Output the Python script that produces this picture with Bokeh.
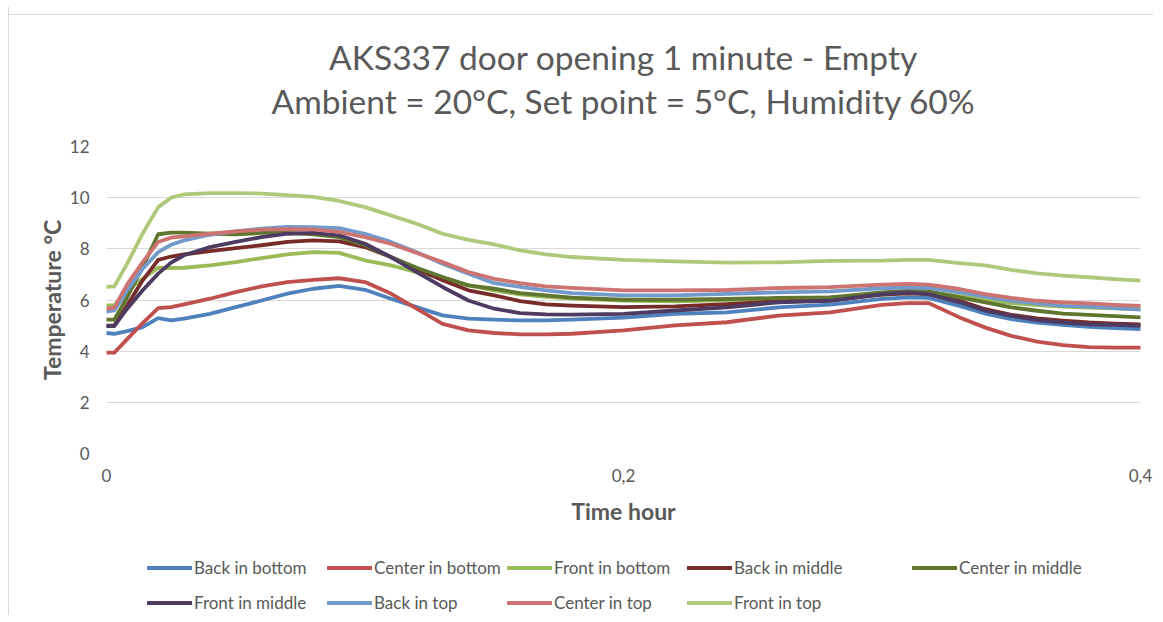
from bokeh.plotting import figure
from bokeh.layouts import column
from bokeh.models import Range1d, FixedTicker, Title, Legend, LegendItem
from bokeh.embed import file_html
from bokeh.resources import INLINE

time_hour = [0, 0.003, 0.008, 0.014, 0.020, 0.025, 0.030, 0.040, 0.050, 0.060,
             0.070, 0.080, 0.090, 0.100, 0.110, 0.120, 0.130, 0.140, 0.150, 0.160,
             0.170, 0.180, 0.200, 0.220, 0.240, 0.260, 0.280, 0.300, 0.310, 0.318,
             0.330, 0.340, 0.350, 0.360, 0.370, 0.380, 0.390, 0.400]

back_in_bottom = [4.71, 4.68, 4.78, 4.94, 5.29, 5.20, 5.27, 5.46, 5.72, 5.98,
                  6.25, 6.44, 6.55, 6.40, 6.05, 5.72, 5.40, 5.27, 5.23, 5.20,
                  5.20, 5.23, 5.31, 5.46, 5.52, 5.71, 5.82, 6.04, 6.10, 6.08,
                  5.77, 5.47, 5.25, 5.12, 5.03, 4.95, 4.90, 4.86]
center_in_bottom = [3.94, 3.94, 4.47, 5.10, 5.68, 5.72, 5.83, 6.05, 6.31, 6.53,
                    6.70, 6.79, 6.85, 6.70, 6.25, 5.66, 5.07, 4.81, 4.71, 4.66,
                    4.66, 4.68, 4.81, 5.01, 5.13, 5.39, 5.52, 5.81, 5.88, 5.88,
                    5.32, 4.92, 4.60, 4.37, 4.24, 4.16, 4.14, 4.14]
front_in_bottom = [5.79, 5.79, 6.38, 6.83, 7.26, 7.25, 7.26, 7.35, 7.48, 7.64,
                   7.78, 7.87, 7.84, 7.55, 7.35, 7.09, 6.83, 6.57, 6.38, 6.22,
                   6.12, 6.05, 5.98, 5.95, 6.00, 6.05, 6.10, 6.20, 6.28, 6.30,
                   6.15, 6.00, 5.88, 5.80, 5.74, 5.70, 5.67, 5.64]
back_in_middle = [5.00, 5.00, 5.79, 6.77, 7.57, 7.70, 7.78, 7.91, 8.03, 8.14,
                  8.27, 8.33, 8.29, 8.07, 7.68, 7.22, 6.77, 6.38, 6.18, 5.96,
                  5.83, 5.78, 5.72, 5.75, 5.84, 5.95, 5.99, 6.21, 6.26, 6.23,
                  5.97, 5.64, 5.42, 5.28, 5.19, 5.12, 5.08, 5.05]
center_in_middle = [5.23, 5.23, 6.11, 7.29, 8.57, 8.63, 8.63, 8.59, 8.57, 8.62,
                    8.62, 8.57, 8.46, 8.14, 7.68, 7.26, 6.90, 6.57, 6.44, 6.27,
                    6.18, 6.09, 6.01, 6.01, 6.04, 6.08, 6.10, 6.30, 6.36, 6.34,
                    6.10, 5.91, 5.71, 5.58, 5.47, 5.42, 5.37, 5.32]
front_in_middle = [4.98, 4.98, 5.66, 6.38, 7.03, 7.46, 7.75, 8.07, 8.27, 8.46,
                   8.59, 8.62, 8.53, 8.20, 7.68, 7.09, 6.51, 5.98, 5.66, 5.49,
                   5.44, 5.43, 5.46, 5.59, 5.71, 5.91, 5.97, 6.23, 6.30, 6.23,
                   5.91, 5.58, 5.38, 5.21, 5.12, 5.05, 5.03, 4.99]
back_in_top = [5.55, 5.59, 6.38, 7.22, 7.87, 8.16, 8.33, 8.55, 8.68, 8.79,
               8.86, 8.85, 8.81, 8.59, 8.27, 7.87, 7.42, 7.03, 6.66, 6.51,
               6.38, 6.27, 6.18, 6.18, 6.24, 6.30, 6.34, 6.46, 6.49, 6.47,
               6.30, 6.13, 5.97, 5.87, 5.77, 5.74, 5.68, 5.62]
center_in_top = [5.66, 5.70, 6.61, 7.48, 8.27, 8.44, 8.49, 8.59, 8.68, 8.75,
                 8.77, 8.76, 8.66, 8.46, 8.20, 7.84, 7.48, 7.09, 6.83, 6.66,
                 6.53, 6.47, 6.38, 6.38, 6.39, 6.47, 6.50, 6.60, 6.63, 6.60,
                 6.43, 6.23, 6.08, 5.97, 5.91, 5.87, 5.81, 5.77]
front_in_top = [6.51, 6.53, 7.42, 8.60, 9.63, 10.00, 10.13, 10.18, 10.18, 10.16,
                10.10, 10.03, 9.87, 9.63, 9.31, 8.98, 8.59, 8.35, 8.17, 7.94,
                7.78, 7.68, 7.57, 7.51, 7.46, 7.47, 7.53, 7.54, 7.57, 7.57,
                7.44, 7.35, 7.18, 7.04, 6.95, 6.89, 6.82, 6.76]

series_names = ["Back in bottom", "Center in bottom", "Front in bottom",
                "Back in middle", "Center in middle", "Front in middle",
                "Back in top", "Center in top", "Front in top"]
series_values = [back_in_bottom, center_in_bottom, front_in_bottom,
                 back_in_middle, center_in_middle, front_in_middle,
                 back_in_top, center_in_top, front_in_top]
series_colors = ["#4F81BD", "#C0504D", "#9BBB59", "#772C2A", "#5F7530",
                 "#4D3B62", "#729ACA", "#CD7371", "#AFC97A"]

x_ticks = [0, 0.2, 0.4]
x_tick_labels = ["0", "0,2", "0,4"]
y_ticks = [0, 2, 4, 6, 8, 10, 12]

chart_title = ("AKS337 door opening 1 minute - Empty\n"
               "Ambient = 20°C, Set point = 5°C, Humidity 60%")

TXT = "#595959"
FONT = "Lato"
LW = 3.8

# ---- main chart ----
p = figure(width=1144, height=528, output_backend="svg", toolbar_location=None,
           x_range=Range1d(0, 0.4), y_range=Range1d(0, 12), title=None,
           min_border_left=97, min_border_right=13, min_border_top=139,
           min_border_bottom=82)
p.outline_line_color = None
p.background_fill_color = "white"
p.border_fill_alpha = 0

p.xgrid.visible = False
p.ygrid.grid_line_color = "#d9d9d9"
p.ygrid.grid_line_width = 1
p.ygrid.ticker = FixedTicker(ticks=y_ticks)

p.xaxis.ticker = FixedTicker(ticks=x_ticks)
p.xaxis.major_label_overrides = {t: l for t, l in zip(x_ticks, x_tick_labels)}
p.yaxis.ticker = FixedTicker(ticks=y_ticks)
for ax in (p.xaxis[0], p.yaxis[0]):
    ax.axis_line_color = None
    ax.major_tick_line_color = None
    ax.minor_tick_line_color = None
    ax.major_tick_out = 0
    ax.major_tick_in = 0
    ax.minor_tick_out = 0
    ax.major_label_text_font = FONT
    ax.major_label_text_font_size = "17px"
    ax.major_label_text_color = TXT
    ax.axis_label_text_font = FONT
    ax.axis_label_text_font_size = "23px"
    ax.axis_label_text_font_style = "bold"
    ax.axis_label_text_color = TXT
p.yaxis.axis_label = "Temperature °C"
p.xaxis.axis_label = "Time hour"
p.yaxis.major_label_standoff = 17
p.yaxis.axis_label_standoff = 1
p.xaxis.major_label_standoff = 15
p.xaxis.axis_label_standoff = 12

for name, vals, col in zip(series_names, series_values, series_colors):
    p.line(time_hour, vals, line_color=col, line_width=LW,
           line_cap="round", line_join="round")

p.add_layout(Title(text=chart_title, align="center", text_align="center",
                   text_font=FONT, text_font_size="33.5px",
                   text_font_style="normal", text_line_height=1.1,
                   text_color=TXT, standoff=51), "above")

# ---- legend strip (proxy lines drawn off-range, only their legend glyphs show) ----
lf = figure(width=1144, height=80, output_backend="svg", toolbar_location=None,
            x_range=Range1d(0, 0.4), y_range=Range1d(100, 101), title=None,
            min_border=0, min_border_left=0, min_border_right=0,
            min_border_top=0, min_border_bottom=0)
lf.axis.visible = False
lf.grid.visible = False
lf.outline_line_color = None
lf.background_fill_color = "white"
lf.border_fill_color = "white"

proxies = []
for vals, col in zip(series_values, series_colors):
    proxies.append(lf.line(time_hour, vals, line_color=col, line_width=LW,
                           line_cap="round"))

legend_style = dict(orientation="horizontal", glyph_width=45, glyph_height=35,
                    label_standoff=2, label_width=133, label_height=35,
                    spacing=0, padding=0, margin=0, border_line_color=None,
                    background_fill_alpha=0, label_text_font=FONT,
                    label_text_font_size="17px", label_text_color=TXT)

legend_a = Legend(items=[LegendItem(label=series_names[i], renderers=[proxies[i]])
                         for i in [0, 1, 2, 3, 5, 6, 7, 8]],
                  ncols=4, location=(41, -4.5), **legend_style)
legend_b = Legend(items=[LegendItem(label=series_names[4], renderers=[proxies[4]])],
                  location=(806, 30.5), **legend_style)
lf.add_layout(legend_a, "center")
lf.add_layout(legend_b, "center")

layout = column(p, lf, spacing=0, margin=(7, 0, 0, 8),
                styles={"border-left": "1px solid #d9d9d9",
                        "background-color": "white",
                        "background-image": "linear-gradient(#d9d9d9, #d9d9d9)",
                        "background-repeat": "no-repeat",
                        "background-size": "100% 1px",
                        "background-position": "0 7px"})

open("out.html", "w").write(file_html(layout, INLINE))
